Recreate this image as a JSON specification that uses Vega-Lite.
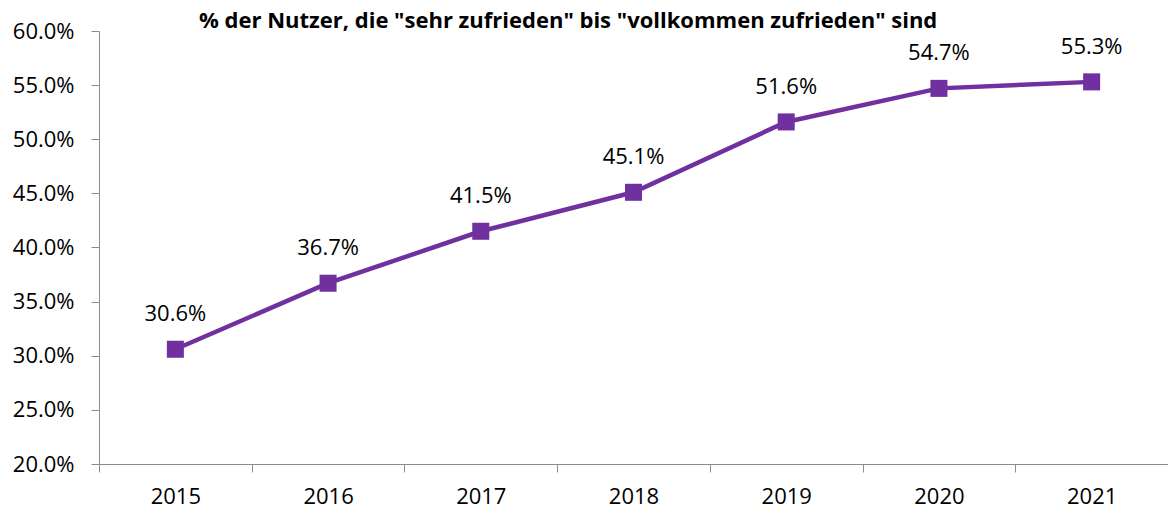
{
  "$schema": "https://vega.github.io/schema/vega-lite/v6.json",
  "autosize": "none",
  "padding": {"left": 99, "top": 31, "right": 0, "bottom": 44},
  "width": 1069,
  "height": 433,
  "background": "white",
  "config": {"view": {"stroke": null}, "font": "Open Sans"},
  "title": {
    "text": "% der Nutzer, die \"sehr zufrieden\" bis \"vollkommen zufrieden\" sind",
    "anchor": "start",
    "frame": "group",
    "dx": 100,
    "offset": -13,
    "fontSize": 22,
    "fontWeight": "bold",
    "color": "black",
    "font": "Open Sans"
  },
  "data": {
    "values": [
      {"year": "2015", "value": 0.306},
      {"year": "2016", "value": 0.367},
      {"year": "2017", "value": 0.415},
      {"year": "2018", "value": 0.451},
      {"year": "2019", "value": 0.516},
      {"year": "2020", "value": 0.547},
      {"year": "2021", "value": 0.553}
    ]
  },
  "encoding": {
    "x": {
      "field": "year",
      "type": "ordinal",
      "bandPosition": 0.5,
      "scale": {"type": "band", "paddingInner": 0, "paddingOuter": 0},
      "axis": {
        "title": null,
        "labelAngle": 0,
        "tickBand": "extent",
        "domainColor": "#8c8c8c",
        "tickColor": "#8c8c8c",
        "tickSize": 8,
        "labelPadding": 14,
        "labelFontSize": 22,
        "labelColor": "black",
        "labelFont": "Open Sans"
      }
    },
    "y": {
      "field": "value",
      "type": "quantitative",
      "scale": {"domain": [0.2, 0.6], "nice": false, "zero": false},
      "axis": {
        "title": null,
        "values": [0.2, 0.25, 0.3, 0.35, 0.4, 0.45, 0.5, 0.55, 0.6],
        "format": ".1%",
        "grid": false,
        "domainColor": "#8c8c8c",
        "tickColor": "#8c8c8c",
        "tickSize": 8,
        "labelPadding": 17,
        "labelFontSize": 22,
        "labelColor": "black",
        "labelFont": "Open Sans"
      }
    }
  },
  "layer": [
    {"mark": {"type": "line", "color": "#7030A0", "strokeWidth": 4.5}},
    {"mark": {"type": "point", "shape": "square", "filled": true, "size": 290, "color": "#7030A0", "opacity": 1}},
    {
      "mark": {"type": "text", "dy": -35, "fontSize": 22, "color": "black", "font": "Open Sans"},
      "encoding": {"text": {"field": "value", "type": "quantitative", "format": ".1%"}}
    }
  ]
}
